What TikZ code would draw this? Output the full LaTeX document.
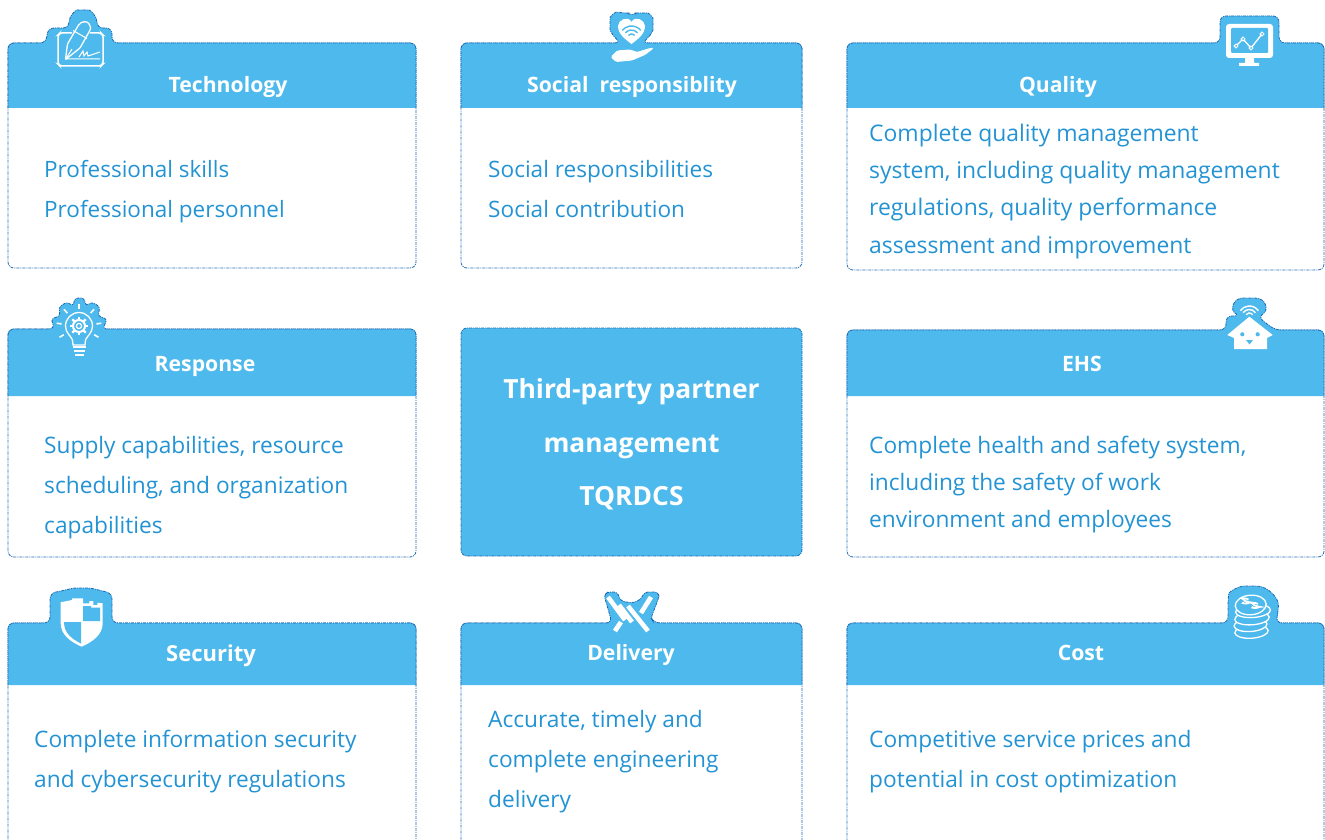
\documentclass[tikz,border=0pt]{standalone}
\usepackage{fontspec}
\setmainfont{Open Sans}
\usetikzlibrary{positioning}
\definecolor{cardblue}{HTML}{4DB9EC}
\definecolor{edgeblue}{HTML}{1A68B2}
\definecolor{textblue}{HTML}{2393D4}

\begin{document}
\begin{tikzpicture}[x=1pt, y=-1pt]
	% card and text styles
	\tikzstyle{edge} = [edgeblue, line width=0.8pt, dash pattern=on 3pt off 1pt on 1pt off 1pt]
	\tikzstyle{card} = [edge, draw, rectangle, rounded corners=6pt, inner sep=0pt, outer sep=0pt, anchor=north west]
	\tikzstyle{head} = [edge, draw, fill=cardblue, rounded corners=6pt]
	\tikzstyle{title} = [white, font=\fontsize{21.2}{25}\selectfont\bfseries, inner sep=0pt, anchor=base]
	\tikzstyle{body} = [textblue, align=left, inner sep=0pt, anchor=base west]
	\tikzstyle{icon} = [white, line width=1.3pt]

	\useasboundingbox (0,0) rectangle (1325,840);
	\clip (0,0) rectangle (1325,840);

	% card bodies
	\node [card, minimum width=408pt, minimum height=225pt] (tech) at (8,43) {};
	\node [card, minimum width=341pt, minimum height=225pt, right=45pt of tech] (social) {};
	\node [card, minimum width=477pt, minimum height=227pt] (quality) at (847,43) {};
	\node [card, minimum width=408pt, minimum height=228pt, below=61pt of tech] (response) {};
	\node [card, minimum width=477pt, minimum height=227pt] (ehs) at (847,330) {};
	\node [card, minimum width=408pt, minimum height=240pt] (security) at (8,623) {};
	\node [card, minimum width=341pt, minimum height=240pt, right=45pt of security] (delivery) {};
	\node [card, minimum width=477pt, minimum height=240pt, right=45pt of delivery] (cost) {};

	% headers with their tabs
	\draw [head] (8,108) -- (8,43) -- (46,43) -- (48,28) -- (69,28) .. controls (69,17) and (75,10) .. (83,10) .. controls (91,10) and (97,17) .. (97,28) -- (112,28) -- (112,43) -- (416,43) -- (416,108);
	\draw [head] (461,108) -- (461,43) -- (621,43) .. controls (613,36) and (610,30) .. (610,24) .. controls (610,16) and (616,12) .. (622,13) .. controls (626,13) and (630,15) .. (632,17) .. controls (634,15) and (638,13) .. (642,13) .. controls (649,13) and (653,18) .. (653,24) .. controls (653,31) and (650,36) .. (642,43) -- (802,43) -- (802,108);
	\draw [head] (847,108) -- (847,43) -- (1220,43) -- (1220,16) -- (1279,16) -- (1279,43) -- (1324,43) -- (1324,108);
	\draw [head] (8,396) -- (8,329) -- (55,329) [rounded corners=3pt] -- (51,319) -- (60,316) -- (59,307) -- (67,302) -- (73,306) -- (75,298) -- (84,298) -- (86,306) -- (92,302) -- (100,307) -- (98,316) -- (107,319) -- (103,329) [rounded corners=6pt] -- (416,329) -- (416,396);
	\draw [head] (847,396) -- (847,330) -- (1226,330) -- (1226,316) -- (1240,316) .. controls (1230,310) and (1233,298) .. (1249,298) .. controls (1266,298) and (1269,310) .. (1258,317) -- (1275,330) -- (1324,330) -- (1324,396);
	\draw [head] (8,685) -- (8,623) -- (50,623) -- (50,593) .. controls (62,591) and (72,588) .. (82,588) .. controls (92,588) and (102,591) .. (112,593) -- (112,623) -- (416,623) -- (416,685);
	\draw [head] (461,685) -- (461,623) -- (612,623) [rounded corners=3pt] -- (604,595) -- (608,592) -- (617,592) -- (621,601) -- (632,603) -- (640,600) -- (645,592) -- (658,592) -- (659,597) -- (651,618) [rounded corners=6pt] -- (654,623) -- (802,623) -- (802,685);
	\draw [head] (847,685) -- (847,623) -- (1228,623) -- (1228,600) .. controls (1229,591) and (1240,586) .. (1250,586) .. controls (1268,586) and (1279,598) .. (1278,612) -- (1276,623) -- (1324,623) -- (1324,685);

	% middle card
	\node [card, fill=cardblue, minimum width=341pt, minimum height=228pt] (centre) at (461,328) {};
	\node [title, font=\fontsize{26.4}{53.5}\selectfont\bfseries, align=center, anchor=center, yshift=-2.5pt] (centretext) at (centre.center) {Third-party partner\\management\\TQRDCS};

	% titles
	\node [title] (techtitle) at (228,93) {Technology};
	\node [title] (socialtitle) at (632,93) {Social\ \ responsiblity};
	\node [title] (qualitytitle) at (1058,93) {Quality};
	\node [title] (responsetitle) at (205,371) {Response};
	\node [title] (ehstitle) at (1082,371) {EHS};
	\node [title, font=\fontsize{22}{25}\selectfont\bfseries] (securitytitle) at (211,661) {Security};
	\node [title] (deliverytitle) at (631,660) {Delivery};
	\node [title] (costtitle) at (1081,660) {Cost};

	% card texts
	\node [body, font=\fontsize{22.5}{40}\selectfont] (techtext) at (44,217) {Professional skills\\Professional personnel};
	\node [body, font=\fontsize{22.6}{40}\selectfont] (socialtext) at (488,217) {Social responsibilities\\Social contribution};
	\node [body, font=\fontsize{22.9}{37.2}\selectfont] (qualitytext) at (869,253) {Complete quality management\\system, including quality management\\regulations, quality performance\\assessment and improvement};
	\node [body, font=\fontsize{22.7}{40}\selectfont] (responsetext) at (44,533) {Supply capabilities, resource\\scheduling, and organization\\capabilities};
	\node [body, font=\fontsize{22.7}{37}\selectfont] (ehstext) at (869,527) {Complete health and safety system,\\including the safety of work\\environment and employees};
	\node [body, font=\fontsize{22.7}{40}\selectfont] (securitytext) at (34,787) {Complete information security\\and cybersecurity regulations};
	\node [body, font=\fontsize{22.7}{40}\selectfont] (deliverytext) at (488,807) {Accurate, timely and\\complete engineering\\delivery};
	\node [body, font=\fontsize{22.7}{40}\selectfont] (costtext) at (869,787) {Competitive service prices and\\potential in cost optimization};

	% icon: pen on a sheet
	\draw [icon, line width=1.5pt, rounded corners=2pt] (72,33) -- (60,33) -- (58,35) -- (58,64) -- (60,66) -- (101,66) -- (103,64) -- (103,35) -- (101,33) -- (90,33);
	\draw [icon, fill=cardblue, rounded corners=1pt] (65.5,59.5) -- (67.5,44) -- (78,26) .. controls (81,21) and (87,21) .. (89,24) .. controls (91,27) and (91,29) .. (89,32) -- (80,48) -- cycle;
	\draw [icon, line width=1pt] (73,30.5) -- (87,38.5) (65.5,59.5) -- (72,49) (66,59) -- (100,59);
	\draw [icon, line width=1pt] (79,57) -- (83,51) -- (84,56) -- (87,52) -- (88,56) -- (100,52);

	% icon: heart and hand
	\fill [white] (631.5,44) .. controls (625,39) and (618,34) .. (618,26) .. controls (618,20) and (628,15) .. (631.5,22) .. controls (635,15) and (645,20) .. (645,26) .. controls (645,34) and (638,39) .. (631.5,44) -- cycle;
	\foreach \r in {4,8,12} \draw [cardblue, line width=1.4pt] (631.5,38) ++(40:\r pt) arc (40:140:\r pt);
	\fill [white, rounded corners=1.5pt] (610.5,57) -- (617,50.5) -- (630,49.5) -- (637,52) -- (650,48) -- (654,48) -- (645,55) -- (632,60.5) -- (616,62) -- cycle;

	% icon: monitor
	\fill [white, rounded corners=3pt] (1226,24) rectangle (1273,58);
	\fill [cardblue, rounded corners=1pt] (1231,28) rectangle (1268,53);
	\fill [white] (1245,58) -- (1254,58) -- (1254,63) -- (1259,63) -- (1259,66) -- (1239,66) -- (1239,63) -- (1245,63) -- cycle;
	\draw [icon] (1236,46) -- (1243,39) -- (1251,48) -- (1262,34);
	\foreach \px/\py in {1236/46,1243/39,1251/48,1262/34} \draw [icon, fill=cardblue, line width=0.9pt] (\px,\py) circle (1.9pt);

	% icon: light bulb
	\draw [icon] (73,345) -- (72.5,340) .. controls (71,336) and (65.5,333) .. (65.5,326) arc (180:0:13.5pt) .. controls (92.5,333) and (87,336) .. (85.5,340) -- (85,345) -- cycle;
	\foreach \a in {-30,7,48,90,132,173,210} \draw [icon, line width=1.6pt] (79,326) ++(\a:17.5pt) -- ++(\a:5pt);
	\foreach \a in {0,45,...,315} \draw [icon, line width=2.2pt] (79,326) ++(\a:6pt) -- ++(\a:3.4pt);
	\draw [icon, line width=2pt] (79,326) circle (6pt);
	\draw [icon, line width=1.2pt] (79,326) circle (2.6pt);
	\draw [icon, line width=1.6pt] (73,347) -- (85.5,347) (74,351) -- (85,351) (75,355) -- (84,355);

	% icon: house
	\fill [white] (1249.3,316.7) -- (1272.7,335) -- (1267,338) -- (1267,349) -- (1234,349) -- (1234,338) -- (1227.3,335) -- cycle;
	\foreach \r in {4,7.5,11} \draw [white, line width=1.4pt] (1249.3,317) ++(35:\r pt) arc (35:145:\r pt);
	\fill [cardblue] (1242.3,334.3) circle (2.1pt) (1257.7,334.3) circle (2.1pt);
	\fill [cardblue] (1246,340) -- (1253,340) -- (1249.5,344.5) -- cycle;

	% icon: shield
	\fill [white] (60.7,602.3) -- (72,600) -- (72,598.3) -- (83,598.3) -- (83,603.3) -- (89.3,603.3) -- (89.3,601) -- (93.3,601) -- (93.3,605) -- (97.3,605) -- (97.3,602.7) -- (102.7,603.3) -- (102.7,623.3) .. controls (102.7,635) and (92,642) .. (81.7,646.7) .. controls (71,642) and (60.7,635) .. (60.7,623.3) -- cycle;
	\fill [cardblue] (83,606) -- (91,606) -- (91,607.5) -- (100,607.5) -- (100,621) -- (83,621) -- cycle;
	\fill [cardblue] (64,622) -- (81,622) -- (81,643.5) .. controls (72,639) and (64,633) .. (64,622) -- cycle;

	% icon: crossed stripes
	\foreach \xa/\ya/\xb/\yb in {608/597/625/620,619/605/632/622,628/606/648/631,651/597/641/613,615/631/621/622}
		\draw [white, line width=4.6pt] (\xa,\ya) -- (\xb,\yb);

	% icon: coins
	\foreach \cx/\cy/\rx in {1251.5/631.7/16.7, 1250.5/625/16.5, 1252/618.3/17.3, 1253/611/17.5}
		\draw [icon, fill=cardblue, rotate around={4:(\cx,\cy)}] (\cx,\cy) ellipse ({\rx pt} and 6.5pt);
	\draw [icon, fill=cardblue, rotate around={4:(1250.7,605)}] (1250.7,605) ellipse (15.5pt and 9.8pt);
	\foreach \sx/\sy in {1245.5/601,1255/605.5}
		\draw [icon, line width=1.7pt] (\sx,\sy) ++(3,-1.5) .. controls ++(-2,-1.5) and ++(-5,-2) .. ++(-5,0) .. controls ++(0,2.5) and ++(5,0) .. ++(6,3) .. controls ++(0,1.5) and ++(-4,2) .. ++(-6,-0.5);
\end{tikzpicture}
\end{document}
